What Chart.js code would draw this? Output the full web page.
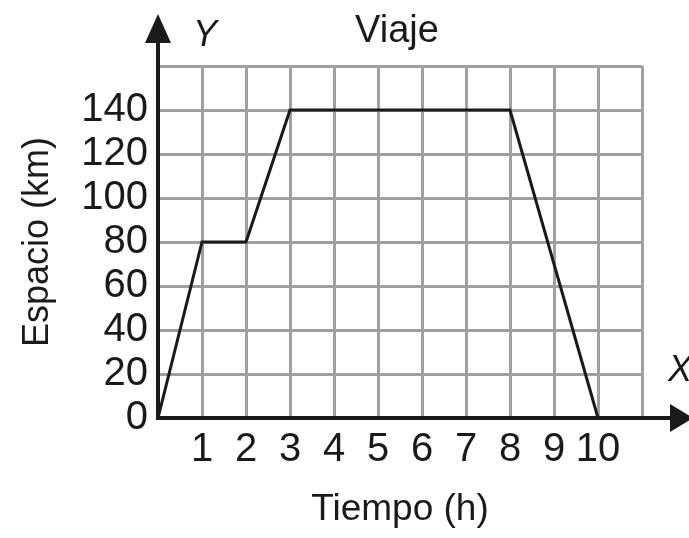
<!DOCTYPE html>
<html>
<head>
<meta charset="utf-8">
<script src="https://cdn.jsdelivr.net/npm/chart.js@4"></script>
<style>
    html, body { margin: 0; padding: 0; background: #fff; }
    #wrap { width: 689px; height: 538px; }
</style>
</head>
<body>
<div id="wrap"><canvas id="viajeChart" width="689" height="538"></canvas></div>
<script>
// Viaje: espacio (km) frente a tiempo (h)
const tiempo = [0, 1, 2, 3, 8, 10];
const espacio = [0, 80, 80, 140, 140, 0];
const xTicks = [1, 2, 3, 4, 5, 6, 7, 8, 9, 10];
const yTicks = [0, 20, 40, 60, 80, 100, 120, 140];

const FONT = '"Liberation Sans", Arial, sans-serif';
const INK = '#1a1a1a';

// Arrows, axis letters and heading
const decorations = {
    id: 'decorations',
    afterDraw(chart) {
        const ctx = chart.ctx;
        const area = chart.chartArea;
        const x0 = chart.scales.x.getPixelForValue(0);
        const y0 = chart.scales.y.getPixelForValue(0);
        ctx.save();
        ctx.strokeStyle = INK;
        ctx.fillStyle = INK;
        ctx.lineWidth = 4;
        ctx.beginPath();
        ctx.moveTo(x0, area.top);
        ctx.lineTo(x0, 32);
        ctx.moveTo(area.right, y0);
        ctx.lineTo(678, y0);
        ctx.stroke();
        // y arrowhead
        ctx.beginPath();
        ctx.moveTo(x0, 14);
        ctx.lineTo(x0 - 13, 43);
        ctx.lineTo(x0 + 13, 43);
        ctx.closePath();
        ctx.fill();
        // x arrowhead
        ctx.beginPath();
        ctx.moveTo(693, y0);
        ctx.lineTo(670, y0 - 14);
        ctx.lineTo(670, y0 + 14);
        ctx.closePath();
        ctx.fill();

        ctx.textAlign = 'center';
        ctx.textBaseline = 'middle';
        ctx.font = '38px ' + FONT;
        ctx.fillText('Viaje', 397, 32);
        ctx.font = 'italic 36px ' + FONT;
        ctx.fillText('Y', 205, 36);
        ctx.fillText('X', 680, 371);
        ctx.restore();
    }
};

const ctx = document.getElementById('viajeChart').getContext('2d');

new Chart(ctx, {
    type: 'line',
    data: {
        datasets: [{
            label: 'Espacio',
            data: tiempo.map((t, i) => ({ x: t, y: espacio[i] })),
            borderColor: INK,
            borderWidth: 3,
            pointRadius: 0,
            tension: 0,
            fill: false,
        }]
    },
    options: {
        responsive: false,
        animation: false,
        layout: {
            padding: { left: 0, right: 47, top: 66, bottom: 0 }
        },
        plugins: {
            legend: { display: false },
            tooltip: { enabled: false }
        },
        scales: {
            x: {
                type: 'linear',
                min: 0,
                max: 11,
                afterFit: (scale) => { scale.height = 120; },
                afterBuildTicks: (scale) => {
                    scale.ticks = [0, ...xTicks, 11].map(v => ({ value: v }));
                },
                grid: {
                    color: '#a0a0a0',
                    lineWidth: 3,
                    drawTicks: false
                },
                border: { color: INK, width: 4 },
                ticks: {
                    autoSkip: false,
                    maxRotation: 0,
                    padding: 8,
                    color: INK,
                    font: { family: FONT, size: 40 },
                    callback: (value) => xTicks.includes(value) ? String(value) : ''
                },
                title: {
                    display: true,
                    text: 'Tiempo (h)',
                    color: INK,
                    font: { family: FONT, size: 37 },
                    padding: { top: 0, bottom: 6 }
                }
            },
            y: {
                min: 0,
                max: 160,
                afterFit: (scale) => { scale.width = 158; },
                afterBuildTicks: (scale) => {
                    scale.ticks = [...yTicks, 160].map(v => ({ value: v }));
                },
                grid: {
                    color: '#a0a0a0',
                    lineWidth: 3,
                    drawTicks: false
                },
                border: { color: INK, width: 4 },
                ticks: {
                    autoSkip: false,
                    padding: 10,
                    color: INK,
                    font: { family: FONT, size: 40 },
                    callback: (value) => yTicks.includes(value) ? String(value) : ''
                },
                title: {
                    display: true,
                    text: 'Espacio (km)',
                    color: INK,
                    font: { family: FONT, size: 36 },
                    padding: { top: 16, bottom: 0 }
                }
            }
        }
    },
    plugins: [decorations]
});
</script>
</body>
</html>
